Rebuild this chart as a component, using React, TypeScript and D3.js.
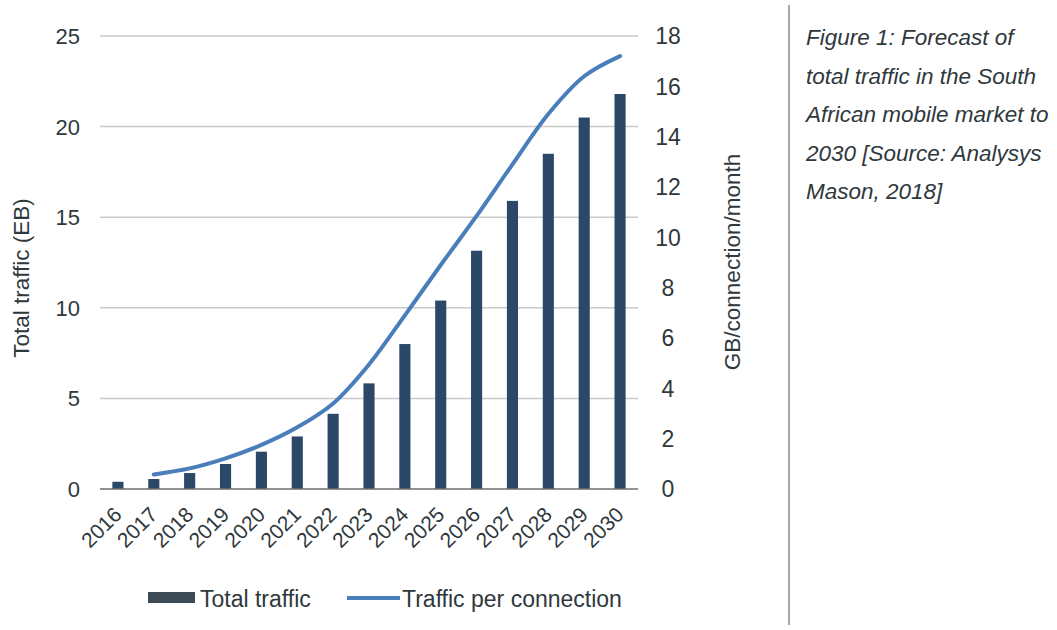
import React from "react";
import * as d3 from "d3";

// Forecast of South African mobile traffic, 2016–2030
const years = ["2016", "2017", "2018", "2019", "2020", "2021", "2022", "2023", "2024", "2025", "2026", "2027", "2028", "2029", "2030"];
// Total traffic, EB (left axis)
const totalTraffic = [0.4, 0.55, 0.88, 1.38, 2.06, 2.9, 4.15, 5.83, 8.0, 10.4, 13.15, 15.9, 18.5, 20.5, 21.8];
// Traffic per connection, GB/connection/month (right axis), starts in 2017
const perConnYears = ["2017", "2018", "2019", "2020", "2021", "2022", "2023", "2024", "2025", "2026", "2027", "2028", "2029", "2030"];
const perConnection = [0.58, 0.82, 1.22, 1.75, 2.45, 3.4, 4.95, 6.9, 8.9, 10.85, 12.9, 14.9, 16.4, 17.2];

const leftTicks = [0, 5, 10, 15, 20, 25];
const rightTicks = [0, 2, 4, 6, 8, 10, 12, 14, 16, 18];

const captionLines = [
  "Figure 1: Forecast of",
  "total traffic in the South",
  "African mobile market to",
  "2030 [Source: Analysys",
  "Mason, 2018]",
];

const W = 1057;
const H = 630;
const plot = { left: 100, right: 638, top: 36, bottom: 489 };

const BAR = "#2b4868";
const LINE = "#4a7ebb";
const TEXT = "#2f383c";
const FONT = "'Liberation Sans', Arial, Helvetica, sans-serif";

export default function App() {
  const x = d3
    .scaleBand<string>()
    .domain(years)
    .range([plot.left, plot.right])
    .paddingInner(0.69)
    .paddingOuter(0.345);
  const yL = d3.scaleLinear().domain([0, 25]).range([plot.bottom, plot.top]);
  const yR = d3.scaleLinear().domain([0, 18]).range([plot.bottom, plot.top]);
  const cx = (yr: string) => (x(yr) as number) + x.bandwidth() / 2;

  const linePath = d3
    .line<number>()
    .x((_, i) => cx(perConnYears[i]))
    .y((v) => yR(v))
    .curve(d3.curveCatmullRom.alpha(0.5))(perConnection) as string;

  return (
    <svg
      width={W}
      height={H}
      viewBox={`0 0 ${W} ${H}`}
      style={{ position: "absolute", left: 0, top: 0, background: "#fff" }}
      fontFamily={FONT}
    >
      <rect x={0} y={0} width={W} height={H} fill="#fff" />

      {/* gridlines */}
      {leftTicks
        .filter((t) => t > 0)
        .map((t) => (
          <line key={"g" + t} x1={plot.left} x2={plot.right} y1={yL(t)} y2={yL(t)} stroke="#c9c9c9" strokeWidth={1.5} />
        ))}

      {/* bars */}
      {years.map((yr, i) => (
        <rect
          key={"b" + yr}
          x={x(yr)}
          y={yL(totalTraffic[i])}
          width={x.bandwidth()}
          height={yL(0) - yL(totalTraffic[i])}
          fill={BAR}
        />
      ))}

      {/* baseline */}
      <line x1={plot.left} x2={plot.right} y1={yL(0)} y2={yL(0)} stroke="#6e6e6e" strokeWidth={1.5} />

      {/* per-connection line */}
      <path d={linePath} fill="none" stroke={LINE} strokeWidth={4} strokeLinecap="round" strokeLinejoin="round" />

      {/* left axis labels */}
      {leftTicks.map((t) => (
        <text key={"l" + t} x={80} y={yL(t)} dy="0.36em" textAnchor="end" fontSize={22} fill={TEXT}>
          {t}
        </text>
      ))}

      {/* right axis labels */}
      {rightTicks.map((t) => (
        <text key={"r" + t} x={668} y={yR(t)} dy="0.36em" textAnchor="middle" fontSize={23} fill={TEXT}>
          {t}
        </text>
      ))}

      {/* x axis labels */}
      {years.map((yr) => (
        <text
          key={"x" + yr}
          transform={`translate(${cx(yr) + 5},${plot.bottom + 27}) rotate(-45)`}
          textAnchor="end"
          fontSize={21}
          fill={TEXT}
        >
          {yr}
        </text>
      ))}

      {/* axis titles */}
      <text transform={`translate(29,${278}) rotate(-90)`} textAnchor="middle" fontSize={22.5} fill={TEXT}>
        Total traffic (EB)
      </text>
      <text transform={`translate(740,${262}) rotate(-90)`} textAnchor="middle" fontSize={22.5} fill={TEXT}>
        GB/connection/month
      </text>

      {/* legend */}
      <rect x={148} y={592} width={47} height={11} fill="#3c4a55" />
      <text x={200} y={607} fontSize={23} fill={TEXT}>
        Total traffic
      </text>
      <line x1={347} x2={400} y1={598} y2={598} stroke={LINE} strokeWidth={4} />
      <text x={402} y={607} fontSize={23} fill={TEXT}>
        Traffic per connection
      </text>

      {/* divider */}
      <line x1={789} x2={789} y1={5} y2={625} stroke="#8a8a8a" strokeWidth={1.5} />

      {/* caption */}
      {captionLines.map((s, i) => (
        <text key={"c" + i} x={806} y={45 + i * 38.5} fontSize={22.5} fontStyle="italic" fill={TEXT}>
          {s}
        </text>
      ))}
    </svg>
  );
}
